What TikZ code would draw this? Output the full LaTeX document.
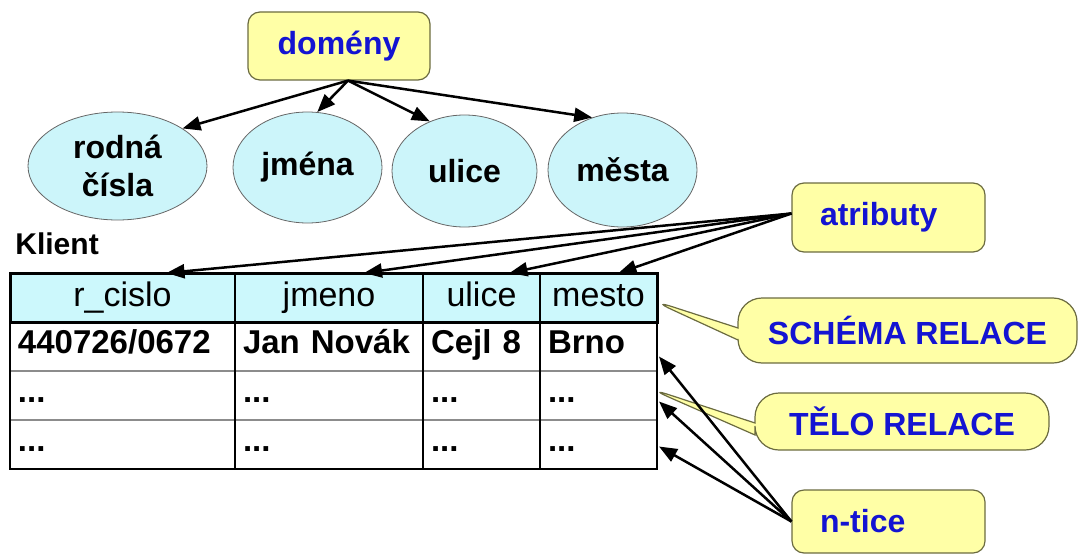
\documentclass[tikz,border=0pt]{standalone}
\usepackage{fontspec}
\setmainfont{Liberation Sans}
\usetikzlibrary{positioning,shapes.geometric,shapes.callouts,arrows.meta}

\definecolor{noteyellow}{HTML}{FFFFA6}
\definecolor{noteline}{HTML}{6B6B40}
\definecolor{noteblue}{HTML}{1414D2}
\definecolor{domcyan}{HTML}{CCF5FA}
\definecolor{headcyan}{HTML}{CCF8FC}

\tikzset{
  note/.style={draw=noteline, fill=noteyellow, rounded corners=6pt, text=noteblue,
    font=\fontsize{16}{19}\selectfont\bfseries, line width=0.6pt},
  bubble/.style={rectangle callout, note, rounded corners=12pt, callout pointer width=6pt},
  domset/.style={ellipse, draw=black!60, fill=domcyan, align=center, inner sep=0pt,
    font=\fontsize{16}{19}\selectfont\bfseries},
  hcell/.style={draw, fill=headcyan, line width=1pt, minimum height=24.5pt,
    outer sep=0pt, inner sep=0pt, text height=12pt, text depth=3pt,
    font=\fontsize{17}{20}\selectfont},
  bcell/.style={draw=black!45, line width=0.6pt, minimum height=24.5pt, outer sep=0pt,
    inner xsep=4pt, inner ysep=0pt, text height=12pt, text depth=5pt, align=left,
    font=\fontsize{16.5}{19}\selectfont\bfseries},
  pointer/.style={-{Triangle[length=9pt,width=7pt]}, line width=1.25pt},
}

\begin{document}
\begin{tikzpicture}[x=0.5pt, y=-0.5pt]
	\useasboundingbox (0,0) rectangle (1079,556);

	% domeny
	\node[note, minimum width=91pt, minimum height=34pt] (dom) at (339,46) {domény};
	\node[domset, minimum width=89.5pt, minimum height=54pt] (rodna) at (117.5,166) {rodná\\čísla};
	\node[domset, minimum width=74.5pt, minimum height=55.5pt] (jmena) at (307.5,167.5) {jména};
	\node[domset, minimum width=72.5pt, minimum height=56pt] (ulice) at (464.5,171) {ulice};
	\node[domset, minimum width=74.5pt, minimum height=57pt] (mesta) at (622.5,170) {města};
	\draw[pointer] ([xshift=4.5pt]dom.south) -- (rodna.30);
	\draw[pointer] ([xshift=4.5pt]dom.south) -- (jmena.80);
	\draw[pointer] ([xshift=4.5pt]dom.south) -- (ulice.125);
	\draw[pointer] ([xshift=4.5pt]dom.south) -- (mesta.120);

	% tabulka Klient
	\node[font=\fontsize{15}{18}\selectfont\bfseries, anchor=south west, inner sep=0pt] (klient) at (15,255) {Klient};
	\node[hcell, minimum width=112.5pt, anchor=north west] (h1) at (10,273) {r\_cislo};
	\node[hcell, minimum width=94pt, right=0pt of h1] (h2) {jmeno};
	\node[hcell, minimum width=58.5pt, right=0pt of h2] (h3) {ulice};
	\node[hcell, minimum width=58.5pt, right=0pt of h3] (h4) {mesto};

	\node[bcell, text width=104.5pt, below=0pt of h1] (a1) {440726/0672};
	\node[bcell, text width=86pt, below=0pt of h2] (a2) {Jan Novák};
	\node[bcell, text width=50.5pt, below=0pt of h3] (a3) {Cejl 8};
	\node[bcell, text width=50.5pt, below=0pt of h4] (a4) {Brno};
	\node[bcell, text width=104.5pt, below=0pt of a1] (b1) {...};
	\node[bcell, text width=86pt, below=0pt of a2] (b2) {...};
	\node[bcell, text width=50.5pt, below=0pt of a3] (b3) {...};
	\node[bcell, text width=50.5pt, below=0pt of a4] (b4) {...};
	\node[bcell, text width=104.5pt, below=0pt of b1] (c1) {...};
	\node[bcell, text width=86pt, below=0pt of b2] (c2) {...};
	\node[bcell, text width=50.5pt, below=0pt of b3] (c3) {...};
	\node[bcell, text width=50.5pt, below=0pt of b4] (c4) {...};
	\foreach \c in {2,3,4}
		\draw[line width=0.7pt] (a\c.north west) -- (c\c.south west);
	\draw[line width=0.8pt] (a1.north west) rectangle (c4.south east);
	\draw[line width=1.5pt] (h1.north west) rectangle (h4.south east);

	% atributy
	\node[note, minimum height=34.5pt, text width=68.5pt, inner xsep=14pt, align=left] (atr) at (888.5,217.5) {atributy};
	\coordinate (atrfoot) at ([yshift=2pt]atr.west);
	\draw[pointer] (atrfoot) -- ([xshift=22pt]h1.north);
	\draw[pointer] (atrfoot) -- ([xshift=17.5pt]h2.north);
	\draw[pointer] (atrfoot) -- ([xshift=14pt]h3.north);
	\draw[pointer] (atrfoot) -- ([xshift=10pt]h4.north);

	% popisky
	\node[bubble, minimum width=169.5pt, minimum height=32.5pt,
		callout absolute pointer={([xshift=-3.5pt,yshift=-1pt]h4.east)}] (schema) at (907.5,330.5) {SCHÉMA RELACE};
	\node[bubble, minimum width=147pt, minimum height=28.5pt,
		callout absolute pointer={([xshift=-5pt,yshift=4pt]b4.east)}] (telo) at (902,421.5) {TĚLO RELACE};

	% n-tice
	\node[note, minimum height=31.5pt, text width=68.5pt, inner xsep=14pt, align=left] (nt) at (888.5,521.5) {n-tice};
	\draw[pointer] (nt.west) -- ([xshift=1pt,yshift=-5pt]a4.east);
	\draw[pointer] (nt.west) -- ([xshift=1pt,yshift=-3pt]b4.east);
	\draw[pointer] (nt.west) -- ([xshift=1pt,yshift=-1pt]c4.east);
\end{tikzpicture}
\end{document}
